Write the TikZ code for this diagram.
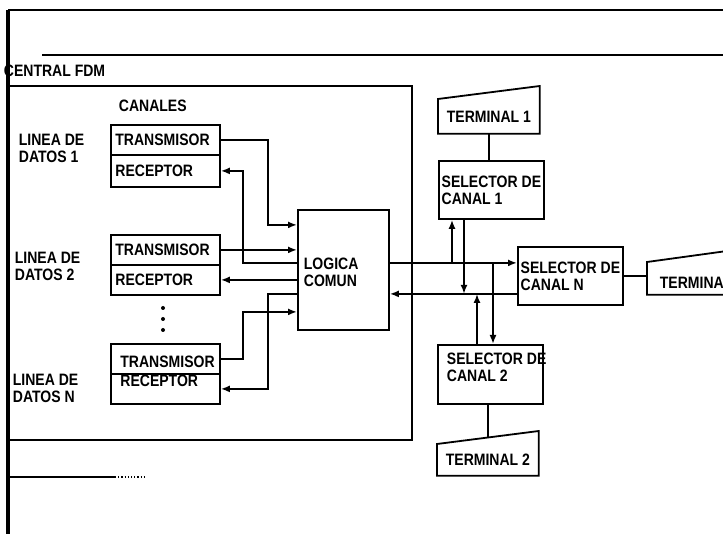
\documentclass[tikz,border=0pt]{standalone}
\usepackage{fontspec}
\setmainfont[FakeStretch=0.85]{Liberation Sans}
\usepackage{tikz}
\usetikzlibrary{positioning, arrows.meta}

\begin{document}
\begin{tikzpicture}[
                x=1pt, y=-1pt,
                node distance=-1.8pt,
                line width=1.8pt,
                font=\fontsize{16.5}{17}\selectfont\bfseries,
                parte/.style={draw, rectangle, minimum height=30pt, text width=100pt, inner sep=4.5pt, align=left},
                selector/.style={draw, rectangle, minimum height=58pt, minimum width=105pt, inner sep=2pt, align=left},
                terminal/.style={rectangle, minimum width=100pt, inner sep=0pt},
                etiqueta/.style={align=left, inner sep=0pt, anchor=west},
                flecha/.style={-{Latex[length=9pt,width=7pt]}}
                ]
                \useasboundingbox (0,0) rectangle (723,534);

                % 외곽 프레임
                \node[etiqueta] (central) at (3,71) {CENTRAL FDM};
                \draw[line width=4pt] (8,10) -- (8,534);
                \draw[line width=2.5pt] (8,10) -- (723,10);
                \draw[line width=1.2pt] (42,55) -- (723,55);
                \draw (8,86) -- (412,86) -- (412,440) -- (8,440);
                \draw[line width=1.2pt] (8,477) -- (115,477);
                \draw[line width=1.2pt, dotted] (115,477) -- (145,477);

                % 채널 블록
                \node[etiqueta] (canales) at (118,106) {CANALES};
                \node[etiqueta] (l1) at (18,148.5) {LINEA DE\\DATOS 1};
                \node[etiqueta] (l2) at (14,266.5) {LINEA DE\\DATOS 2};
                \node[etiqueta] (ln) at (12,388.5) {LINEA DE\\DATOS N};

                \node[parte, anchor=north west] (t1) at (110,124) {TRANSMISOR};
                \node[parte, minimum height=32pt] (r1) [below=of t1] {RECEPTOR};
                \node[parte, anchor=north west] (t2) at (110,234) {TRANSMISOR};
                \node[parte] (r2) [below=of t2] {RECEPTOR};
                \node[parte, anchor=north west] (tn) at (110,343) {\hspace*{5pt}\raisebox{-5pt}[11pt][3pt]{TRANSMISOR}};
                \node[parte] (rn) [below=of tn] {\hspace*{5pt}\raisebox{6pt}[11pt][3pt]{RECEPTOR}};
                \foreach \y in {308,319,330}
                    \fill (163,\y) circle (2pt);

                % 공통 논리
                \node[draw, anchor=north west, minimum width=91pt, minimum height=120pt,
                      text width=79pt, inner sep=6pt, align=left] (logica) at (297,209) {\raisebox{-4pt}[11pt][3pt]{LOGICA}\\\raisebox{-4pt}[11pt][3pt]{COMUN}};

                % 선택기와 단말
                \node[selector, anchor=north west] (sel1) at (438,160) {SELECTOR DE\\CANAL 1};
                \node[selector, anchor=north west] (selN) at (517,246) {SELECTOR DE\\CANAL N};
                \node[selector, anchor=north west, minimum height=59pt] (sel2) at (437,344) {\hspace*{6pt}\raisebox{5pt}[11pt][3pt]{\makebox[93pt][l]{SELECTOR DE}}\\\hspace*{6pt}\raisebox{5pt}[11pt][3pt]{\makebox[93pt][l]{CANAL 2}}};

                \node[terminal, minimum height=33pt, anchor=north west] (term1) at (438,99) {TERMINAL 1};
                \draw (term1.south west) -- (term1.north west) -- ([yshift=13pt]term1.north east) -- (term1.south east) -- cycle;
                \node[terminal, minimum height=30pt, anchor=north west] (term2) at (437,444) {TERMINAL 2};
                \draw (term2.south west) -- (term2.north west) -- ([yshift=13pt]term2.north east) -- (term2.south east) -- cycle;
                \node[terminal, minimum height=31pt, text width=76pt, inner xsep=10pt, align=left, anchor=north west] (termN) at (647,262) {\raisebox{-6pt}[11pt][3pt]{TERMINA}};
                \draw (termN.south east) -- (termN.south west) -- (termN.north west) -- ([yshift=14pt]termN.north east);

                % 연결선 (채널 - 공통 논리)
                \coordinate (colA) at (243,0);
                \coordinate (colB) at (268,0);
                \coordinate (in1) at ([yshift=45pt]logica.west);
                \coordinate (out1) at ([yshift=7pt]logica.west);
                \coordinate (outN) at ([yshift=-24pt]logica.west);
                \coordinate (in2) at ([yshift=-42pt]logica.west);

                \draw[flecha] (t1.east) -| (colB |- in1) -- (in1);
                \draw[flecha] (out1) -| (colA |- r1.east) -- (r1.east);
                \draw[flecha] (t2.east) -- (t2.east -| logica.west);
                \draw[flecha] (r2.east -| logica.west) -- (r2.east);
                \draw[flecha] (tn.east) -| (colA |- in2) -- (in2);
                \draw[flecha] (outN) -| (colB |- rn.east) -- (rn.east);

                % 연결선 (공통 논리 - 선택기)
                \coordinate (busA) at ([yshift=7pt]logica.east);
                \coordinate (busB) at ([yshift=-24pt]logica.east);
                \coordinate (s1a) at ([xshift=14pt]sel1.south west);
                \coordinate (s1b) at ([xshift=26pt]sel1.south west);
                \coordinate (s2a) at ([xshift=40pt]sel2.north west);
                \coordinate (s2b) at ([xshift=56pt]sel2.north west);

                \draw[flecha] (busA) -- (busA -| selN.west);
                \draw[flecha] (busB -| selN.west) -- (busB);
                \draw[flecha] (s1a |- busA) -- (s1a);
                \draw[flecha] (s1b) -- (s1b |- busB);
                \draw[flecha] (s2a) -- (s2a |- busB);
                \draw[flecha] (s2b |- busA) -- (s2b);

                % 단말 연결
                \draw (term1.south) -- (term1.south |- sel1.north);
                \draw (term2.north |- sel2.south) -- ([yshift=6.5pt]term2.north);
                \draw (selN.east) -- (selN.east -| termN.west);
            \end{tikzpicture}
\end{document}
